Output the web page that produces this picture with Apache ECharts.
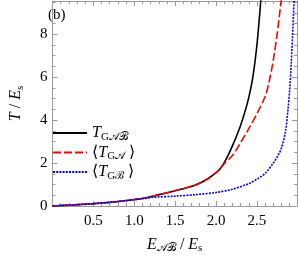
<!DOCTYPE html>
<html><head><meta charset="utf-8">
<script src="https://cdn.jsdelivr.net/npm/echarts@6/dist/echarts.min.js"></script>
<style>html,body{margin:0;padding:0;background:#fff}#c{width:298px;height:259px}</style>
</head><body><div id="c"></div>
<script>
// Shared low-energy part (black and red coincide)
const commonX = [0, 0.25, 0.5, 0.75, 1.0, 1.16, 1.25, 1.5, 1.75, 1.9, 2.0, 2.05];
const commonY = [0, 0.05, 0.11, 0.19, 0.30, 0.40, 0.48, 0.71, 0.98, 1.27, 1.55, 1.74];
// T_GAB (black solid)
const blackX = [2.1, 2.15, 2.2, 2.25, 2.3, 2.35, 2.4, 2.45, 2.5, 2.55];
const blackY = [2.02, 2.38, 2.8, 3.25, 3.75, 4.35, 5.05, 6.0, 7.5, 9.7];
// <T_GA> (red dashed)
const redX = [2.1, 2.2, 2.3, 2.4, 2.5, 2.6, 2.65, 2.7, 2.75, 2.8];
const redY = [1.97, 2.35, 2.95, 3.6, 4.3, 5.1, 5.8, 6.8, 8.1, 9.7];
// <T_GB> (blue dotted)
const blueX = [0, 0.25, 0.5, 0.75, 1.0, 1.16, 1.25, 1.5, 1.75, 2.0, 2.2, 2.4, 2.5, 2.6, 2.7, 2.75, 2.8, 2.85, 2.88, 2.9, 2.92, 2.94, 2.955];
const blueY = [0, 0.05, 0.11, 0.19, 0.29, 0.37, 0.41, 0.46, 0.53, 0.63, 0.78, 1.04, 1.25, 1.52, 2.0, 2.3, 2.7, 3.5, 4.5, 5.4, 6.7, 8.3, 9.7];
const xTicks = [0.5, 1.0, 1.5, 2.0, 2.5];
const yTicks = [0, 2, 4, 6, 8];
const names = ['{it|T}{sub|G𝒜ℬ}', '{rm|⟨}{it|T}{sub|G𝒜}{rm| ⟩}', '{rm|⟨}{it|T}{sub|Gℬ}{rm| ⟩}'];

const zip = (xs, ys) => xs.map((x, i) => [x, ys[i]]);
const blackData = zip(commonX.concat(blackX), commonY.concat(blackY));
const redData = zip(commonX.concat(redX), commonY.concat(redY));
const blueData = zip(blueX, blueY);

const serif = '"Liberation Serif", "DejaVu Serif", serif';
const rich = {
  it: {fontFamily: serif, fontStyle: 'italic', fontSize: 16, color: '#000'},
  rm: {fontFamily: serif, fontSize: 16, color: '#000'},
  sub: {fontFamily: serif, fontSize: 11, color: '#000', padding: [8, 0, 0, 0]},
};
const frame = '#999';
const tickCommon = {
  axisLine: {show: true, onZero: false, lineStyle: {color: frame, width: 1}},
  axisTick: {show: true, inside: true, length: 5, lineStyle: {color: frame}},
  splitLine: {show: false},
};
const fmtX = v => xTicks.some(t => Math.abs(t - v) < 1e-6) ? v.toFixed(1) : '';
const fmtY = v => yTicks.some(t => Math.abs(t - v) < 1e-6) ? String(v) : '';
const minorX = {show: true, splitNumber: 5, length: 3, lineStyle: {color: frame}};
const minorY = {show: true, splitNumber: 4, length: 3, lineStyle: {color: frame}};

const chart = echarts.init(document.getElementById('c'));
chart.setOption({
  animation: false,
  backgroundColor: '#fff',
  grid: {left: 40, right: 1, top: 1, bottom: 53},
  xAxis: [
    Object.assign({type: 'value', position: 'bottom', min: 0, max: 2.99, interval: 0.5,
      axisLabel: {formatter: fmtX, color: '#000', fontFamily: serif, fontSize: 15, margin: 8, showMaxLabel: false},
      name: '{it|E}{sub|𝒜ℬ}{rm| / }{it|E}{sub|s}', nameLocation: 'middle', nameGap: 29,
      nameTextStyle: {rich: rich}}, tickCommon, {minorTick: minorX}),
    Object.assign({type: 'value', position: 'top', min: 0, max: 2.99, interval: 0.5,
      axisLabel: {show: false}}, tickCommon, {minorTick: minorX})
  ],
  yAxis: [
    Object.assign({type: 'value', position: 'left', min: 0, max: 9.55, interval: 2,
      axisLabel: {formatter: fmtY, color: '#000', fontFamily: serif, fontSize: 15, margin: 5, showMaxLabel: false},
      name: '{it|T}{rm| / }{it|E}{sub|s}', nameLocation: 'middle', nameGap: 27, nameRotate: 90,
      nameTextStyle: {rich: rich}}, tickCommon, {minorTick: minorY}),
    Object.assign({type: 'value', position: 'right', min: 0, max: 9.55, interval: 2,
      axisLabel: {show: false}}, tickCommon, {minorTick: minorY})
  ],
  legend: {
    orient: 'vertical', left: 47, top: 120, itemWidth: 34, itemHeight: 12, itemGap: 2,
    itemStyle: {opacity: 0},
    textStyle: {rich: rich, fontFamily: serif, fontSize: 16},
    data: names
  },
  graphic: [{type: 'text', left: 48, top: 8, style: {text: '(b)', font: '15px "Liberation Serif", serif', fill: '#000'}}],
  series: [
    {name: names[0], type: 'line', data: blackData, smooth: 0.3, symbol: 'none',
      lineStyle: {color: '#000', width: 1.6}, itemStyle: {color: '#000'}},
    {name: names[1], type: 'line', data: redData, smooth: 0.3, symbol: 'none',
      lineStyle: {color: '#f00', width: 1.6, type: [8, 3]}, itemStyle: {color: '#f00'}},
    {name: names[2], type: 'line', data: blueData, smooth: 0.3, symbol: 'none',
      lineStyle: {color: '#00f', width: 1.6, type: [2, 1.2]}, itemStyle: {color: '#00f'}}
  ]
});
</script></body></html>
